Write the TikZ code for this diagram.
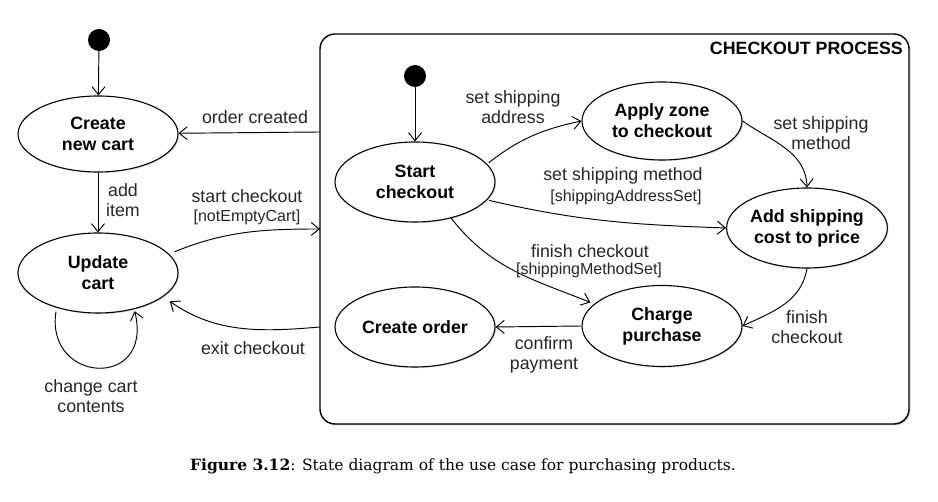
\documentclass[tikz,border=0pt]{standalone}
\usepackage{fontspec}
\setmainfont{Liberation Sans}
\newfontfamily\capfont{DejaVu Serif}
\usetikzlibrary{arrows.meta,shapes.geometric,shadows}
\begin{document}
\begin{tikzpicture}[x=1pt,y=1pt,
  state/.style={ellipse,draw,line width=1.1pt,minimum width=160pt,minimum height=80pt,inner sep=0pt,align=center,
    font=\fontsize{17.8}{21}\selectfont\bfseries,fill=white,
    drop shadow={opacity=0.25,shadow xshift=1.2pt,shadow yshift=-1.2pt}},
  init/.style={circle,fill=black,minimum size=22pt,inner sep=0pt},
  arr/.style={-{Straight Barb[length=8pt,width=13pt]},line width=0.95pt},
  lbl/.style={font=\fontsize{17.8}{20.5}\selectfont,align=center,inner sep=0pt,text=black!85},
  grd/.style={font=\fontsize{16}{18}\selectfont,inner sep=0pt,text=black!85}
]
\useasboundingbox (0,0) rectangle (938,502);
\fill[white] (0,0) rectangle (938,502);

% composite state box
\node[draw,rounded corners=15pt,minimum width=589pt,minimum height=390pt,line width=1.4pt,
  drop shadow={opacity=0.35,shadow xshift=1.5pt,shadow yshift=-1.5pt},fill=white] (box) at (614.5,273) {};
\node[anchor=east,font=\fontsize{17.8}{20}\selectfont\bfseries,inner sep=0pt] (title) at (903,454) {CHECKOUT PROCESS};

% left states
\node[init] (init1) at (99,462) {};
\node[state,minimum height=76pt] (cart) at (98,368) {Create\\new cart};
\node[state] (update) at (98,229) {Update\\cart};

% inner states
\node[init] (init2) at (415,426) {};
\node[state] (start) at (415,320) {Start\\checkout};
\node[state,minimum height=78pt] (apply) at (662,381) {Apply zone\\to checkout};
\node[state] (addship) at (807,274) {Add shipping\\cost to price};
\node[state,minimum height=81pt] (charge) at (662,176) {Charge\\purchase};
\node[state] (order) at (415,175) {Create order};

\coordinate (oc) at (320,370);
\coordinate (sc) at (320,273);
\coordinate (ec) at (320,175);

% left connectors
\draw[arr] (init1) -- (cart);
\draw[arr] (cart) -- (update);
\node[lbl] (laddi) at (123,302) {add\\item};
\draw[arr] (oc) -- (cart);
\node[lbl] (lord) at (255,385) {order created};
\draw[arr,shorten <=6pt] (update.15) to[out=22,in=180] (sc);
\node[lbl] (lsc) at (247,306) {start checkout};
\node[grd] (lsc2) at (247,285) {[notEmptyCart]};
\draw[arr,shorten >=8pt] (ec) to[out=185,in=-35] (update.-20);
\node[lbl] (lex) at (253,154) {exit checkout};
\draw[arr,shorten <=4pt,shorten >=2pt] (update.-140) .. controls (45,118) and (154,112) .. (update.-45);
\node[lbl] (lch) at (91,106) {change cart\\contents};

% inner connectors
\draw[arr] (init2) -- (start);
\draw[arr,shorten <=2pt] (start.14) to[out=38,in=192] (apply.west);
\node[lbl] (lssa) at (513,395) {set shipping\\address};
\draw[arr] (apply.east) to[out=-35,in=92] (addship.north);
\node[lbl] (lssm) at (821,369) {set shipping\\method};
\draw[arr,shorten <=2pt] (start.-14) to[out=-13,in=178] (addship.west);
\node[lbl] (lssm2) at (623,326) {set shipping method};
\node[grd] (lssm3) at (626,305) {[shippingAddressSet]};
\draw[arr,shorten >=4pt] (start.-45) to[out=-52,in=158] (charge.162);
\node[lbl] (lfc) at (590,251) {finish checkout};
\node[grd] (lfc2) at (589,232) {[shippingMethodSet]};
\draw[arr] (addship.south) to[out=-100,in=25] (charge.east);
\node[lbl] (lfc3) at (807,175) {finish\\checkout};
\draw[arr] (charge.west) -- (order.east);
\node[lbl] (lcp) at (544,147) {confirm\\payment};

% caption
\node[font=\capfont\fontsize{15.5}{19}\selectfont,inner sep=0pt] (cap) at (463,36)
  {\textbf{Figure 3.12}: State diagram of the use case for purchasing products.};
\end{tikzpicture}
\end{document}
